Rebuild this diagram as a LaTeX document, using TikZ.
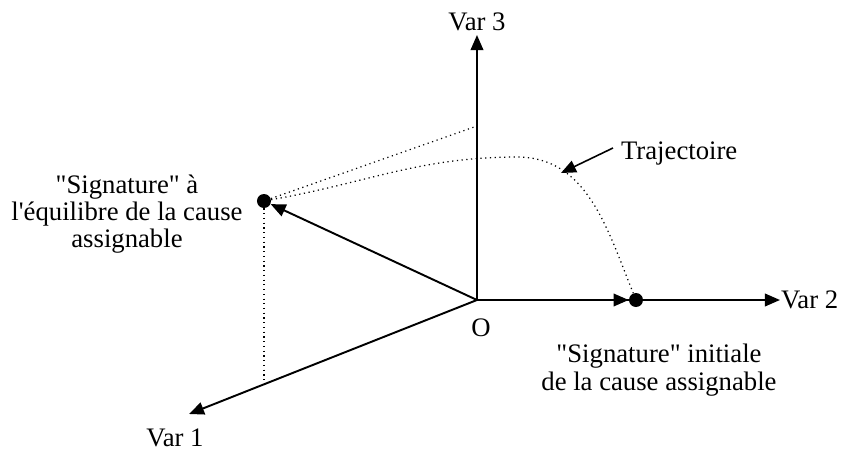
\documentclass[tikz,border=0pt]{standalone}
\usepackage{fontspec}
\setmainfont{Liberation Serif}[Ligatures=TeXOff]
\usetikzlibrary{positioning, arrows.meta}

\begin{document}
\begin{tikzpicture}[
    axis/.style={line width=1.1pt, -{Triangle[length=0.3cm, width=0.25cm]}},
    dot/.style={circle, fill, inner sep=0pt, minimum size=0.28cm},
    lbl/.style={font=\fontsize{15.2}{15.5}\selectfont, align=center, inner sep=1pt},
    dots/.style={dotted, line width=0.7pt}
  ]
    \useasboundingbox (-9.54,-3.0) rectangle (7.28,6.0);

    % axes
    \coordinate (O) at (0,0);
    \coordinate (v1) at (-5.76,-2.28);
    \coordinate (v2) at (6.06,0);
    \coordinate (v3) at (0,5.3);

    \draw[axis] (O)--(v1);
    \draw[axis] (O)--(v2);
    \draw[axis] (O)--(v3);

    \node[lbl] (l1) at (-6.04,-2.76) {Var 1};
    \node[lbl, anchor=west] (l2) at (6.04,0) {Var 2};
    \node[lbl] (l3) at (0,5.56) {Var 3};
    \node[lbl] (lo) at (0.08,-0.56) {O};

    % signatures
    \node[dot] (eq) at (-4.26,1.98) {};
    \node[dot] (init) at (3.18,0) {};

    \draw[axis] (O)--(eq);
    \draw[axis] (O)--(init);

    \coordinate (p3) at (0,3.48);
    \coordinate (p1) at (-4.26,-1.686);
    \coordinate (top) at (0.8,2.86);

    \draw[dots] (eq)--(p3);
    \draw[dots] (eq)--(p1);

    % trajectoire
    \draw[dots] (eq) to[out=10, in=180] (top) to[out=0, in=112] (init);

    \node[lbl, anchor=west] (traj) at (2.84,2.94) {Trajectoire};
    \coordinate (ts) at (2.72,3.04);
    \coordinate (tt) at (1.68,2.54);
    \draw[axis, line width=0.9pt] (ts)--(tt);

    \node[lbl] (leq) at (-7.0,1.72) {"Signature" à\\l'équilibre de la cause\\assignable};
    \node[lbl] (linit) at (3.64,-1.4) {"Signature" initiale\\de la cause assignable};
\end{tikzpicture}
\end{document}
